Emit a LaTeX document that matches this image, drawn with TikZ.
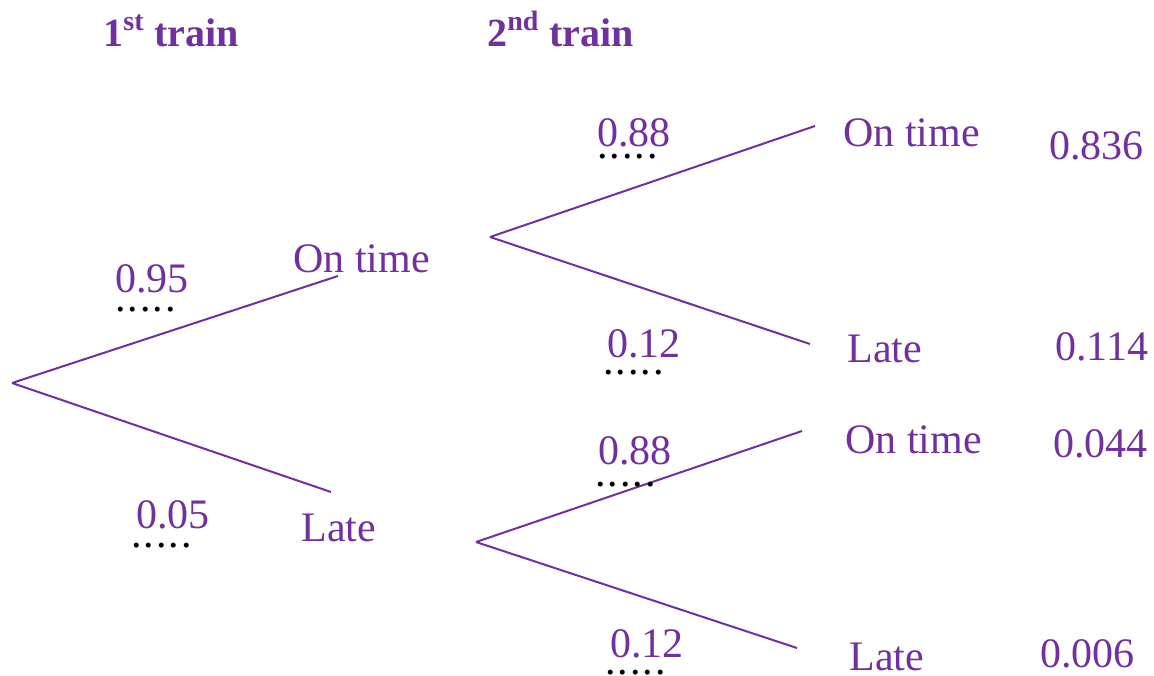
\documentclass[tikz,border=0pt]{standalone}
\usepackage{fontspec}
\setmainfont{Liberation Serif}
\usepackage{tikz}
\definecolor{treepurple}{RGB}{112,48,160}
\newcommand{\dotrow}{.\kern1pt.\kern1pt.\kern1pt.\kern1pt.}

\begin{document}
\begin{tikzpicture}[x=0.5pt,y=-0.5pt,
        branch/.style={treepurple,line width=1pt},
        lbl/.style={treepurple,anchor=base west,inner sep=0pt,font=\fontsize{21}{25}\selectfont},
        head/.style={lbl,font=\fontsize{20}{24}\selectfont\bfseries},
        blank/.style={lbl,black}]
        \useasboundingbox (0,0) rectangle (1154,675);

        % branch points
        \coordinate (root) at (12,383);
        \coordinate (on) at (338,276);
        \coordinate (late) at (331,492);
        \coordinate (onstart) at (490,237);
        \coordinate (latestart) at (476,542);
        \coordinate (onon) at (815,126);
        \coordinate (onlate) at (810,344);
        \coordinate (lateon) at (802,431);
        \coordinate (latelate) at (797,648);

        \draw [branch] (root) -- (on);
        \draw [branch] (root) -- (late);
        \draw [branch] (onstart) -- (onon);
        \draw [branch] (onstart) -- (onlate);
        \draw [branch] (latestart) -- (lateon);
        \draw [branch] (latestart) -- (latelate);

        \node[head] (first) at (103,46) {1\textsuperscript{st} train};
        \node[head] (second) at (487,46) {2\textsuperscript{nd} train};

        \node[lbl] (p1) at (115,292) {0.95};
        \node[blank] (d1) at (115,311) {\dotrow};
        \node[lbl] (t1) at (293,272) {On time};
        \node[lbl] (p2) at (136,528) {0.05};
        \node[blank] (d2) at (131,547) {\dotrow};
        \node[lbl] (t2) at (301,541) {Late};

        \node[lbl] (p3) at (597,146) {0.88};
        \node[blank] (d3) at (597,158) {\dotrow};
        \node[lbl] (t3) at (843,146) {On time};
        \node[lbl] (r1) at (1049,159) {0.836};
        \node[lbl] (p4) at (607,357) {0.12};
        \node[blank] (d4) at (603,374) {\dotrow};
        \node[lbl] (t4) at (847,362) {Late};
        \node[lbl] (r2) at (1055,360) {0.114};

        \node[lbl] (p5) at (598,464) {0.88};
        \node[blank] (d5) at (595,486) {\dotrow};
        \node[lbl] (t5) at (845,453) {On time};
        \node[lbl] (r3) at (1053,457) {0.044};
        \node[lbl] (p6) at (610,657) {0.12};
        \node[blank] (d6) at (605,674) {\dotrow};
        \node[lbl] (t6) at (849,670) {Late};
        \node[lbl] (r4) at (1040,667) {0.006};
    \end{tikzpicture}
\end{document}
